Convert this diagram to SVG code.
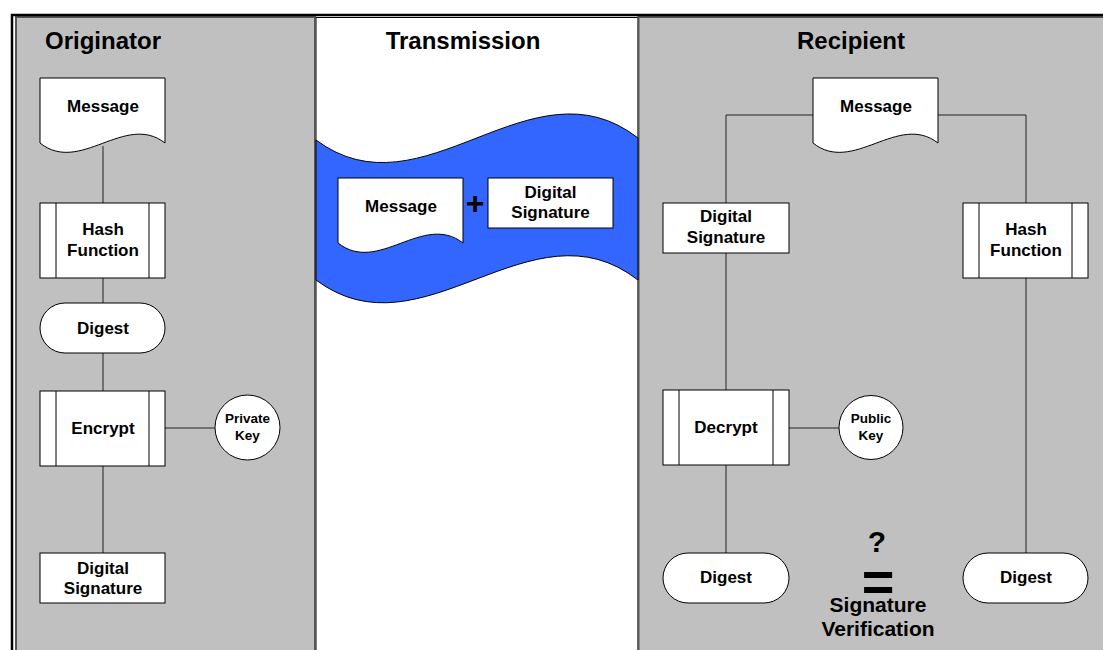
<svg xmlns="http://www.w3.org/2000/svg" width="1103" height="650" viewBox="0 0 1103 650">
<defs>
<style>
text{font-family:"Liberation Sans",Arial,Helvetica,sans-serif;font-weight:bold;fill:#000;text-anchor:middle}
.title{font-size:24px}
.lbl{font-size:17px}
.small{font-size:13.5px}
.node{fill:#fff;stroke:#000;stroke-width:1}
.conn{fill:none;stroke:#222;stroke-width:1}
.lane{fill:#C0C0C0;stroke:#555;stroke-width:2}
</style>
<path id="doc" d="M0,0 H125 V65 C85,34 40,97 0,65 Z"/>
</defs>
<rect x="0" y="0" width="1103" height="650" fill="#fff"/>
<g id="lanes">
<rect x="316" y="17.5" width="322" height="700" fill="#fff" stroke="#000" stroke-width="1"/>
<rect class="lane" x="16" y="17" width="299" height="700"/>
<rect class="lane" x="638.5" y="17" width="500" height="700"/>
<rect x="12" y="15" width="1120" height="700" fill="none" stroke="#000" stroke-width="2.5"/>
</g>
<g id="band">
<path d="M316,140 C423,220 531,55 638,138 V280 C531,197 423,360 316,280 Z" fill="#3366FF" stroke="#000" stroke-width="1"/>
</g>
<g id="titles">
<text class="title" x="103" y="49">Originator</text>
<text class="title" x="463" y="49">Transmission</text>
<text class="title" x="851" y="49">Recipient</text>
</g>
<g id="connectors">
<line class="conn" x1="103" y1="146" x2="103" y2="203"/>
<line class="conn" x1="103" y1="278" x2="103" y2="303"/>
<line class="conn" x1="103" y1="353" x2="103" y2="391"/>
<line class="conn" x1="103" y1="466" x2="103" y2="553"/>
<line class="conn" x1="165" y1="428" x2="215" y2="428"/>
<polyline class="conn" points="813,115 726,115 726,203"/>
<polyline class="conn" points="938,115 1026,115 1026,203"/>
<line class="conn" x1="726" y1="253" x2="726" y2="390"/>
<line class="conn" x1="726" y1="465" x2="726" y2="553"/>
<line class="conn" x1="789" y1="428" x2="839" y2="428"/>
<line class="conn" x1="1026" y1="278" x2="1026" y2="553"/>
</g>
<g id="o-message">
<use href="#doc" x="40" y="78" class="node"/>
<text class="lbl" x="103" y="112">Message</text>
</g>
<g id="o-hash">
<rect class="node" x="40" y="203" width="125" height="75"/>
<line class="node" x1="56" y1="203" x2="56" y2="278"/>
<line class="node" x1="149" y1="203" x2="149" y2="278"/>
<text class="lbl" x="103" y="235">Hash</text>
<text class="lbl" x="103" y="256">Function</text>
</g>
<g id="o-digest">
<rect class="node" x="40" y="303" width="125" height="50" rx="25" ry="25"/>
<text class="lbl" x="103" y="334">Digest</text>
</g>
<g id="o-encrypt">
<rect class="node" x="40" y="391" width="125" height="75"/>
<line class="node" x1="56" y1="391" x2="56" y2="466"/>
<line class="node" x1="149" y1="391" x2="149" y2="466"/>
<text class="lbl" x="103" y="434">Encrypt</text>
</g>
<g id="o-privatekey">
<circle class="node" cx="247.5" cy="427.5" r="32.5"/>
<text class="small" x="247.5" y="423">Private</text>
<text class="small" x="247.5" y="440">Key</text>
</g>
<g id="o-signature">
<rect class="node" x="40" y="553" width="125" height="50"/>
<text class="lbl" x="103" y="574">Digital</text>
<text class="lbl" x="103" y="594">Signature</text>
</g>
<g id="t-message">
<use href="#doc" x="338" y="178" class="node"/>
<text class="lbl" x="401" y="212">Message</text>
</g>
<g id="t-plus">
<text x="475" y="214" style="font-size:32px">+</text>
</g>
<g id="t-signature">
<rect class="node" x="488" y="178" width="125" height="50"/>
<text class="lbl" x="550.5" y="198">Digital</text>
<text class="lbl" x="550.5" y="218">Signature</text>
</g>
<g id="r-message">
<use href="#doc" x="813" y="78" class="node"/>
<text class="lbl" x="876" y="112">Message</text>
</g>
<g id="r-signature">
<rect class="node" x="663" y="203" width="126" height="50"/>
<text class="lbl" x="726" y="222">Digital</text>
<text class="lbl" x="726" y="243">Signature</text>
</g>
<g id="r-hash">
<rect class="node" x="963" y="203" width="125" height="75"/>
<line class="node" x1="979" y1="203" x2="979" y2="278"/>
<line class="node" x1="1072" y1="203" x2="1072" y2="278"/>
<text class="lbl" x="1026" y="235">Hash</text>
<text class="lbl" x="1026" y="256">Function</text>
</g>
<g id="r-decrypt">
<rect class="node" x="663" y="390" width="126" height="75"/>
<line class="node" x1="679" y1="390" x2="679" y2="465"/>
<line class="node" x1="773" y1="390" x2="773" y2="465"/>
<text class="lbl" x="726" y="433">Decrypt</text>
</g>
<g id="r-publickey">
<circle class="node" cx="871" cy="427.5" r="32"/>
<text class="small" x="871" y="423">Public</text>
<text class="small" x="871" y="440">Key</text>
</g>
<g id="r-digest1">
<rect class="node" x="663" y="553" width="126" height="50" rx="25" ry="25"/>
<text class="lbl" x="726" y="583">Digest</text>
</g>
<g id="r-digest2">
<rect class="node" x="963" y="553" width="125" height="50" rx="25" ry="25"/>
<text class="lbl" x="1026" y="583">Digest</text>
</g>
<g id="verification">
<text x="877" y="551.5" style="font-size:30px">?</text>
<text x="878" y="600.5" style="font-size:56px">=</text>
<text x="878" y="612" style="font-size:21px">Signature</text>
<text x="878" y="635.5" style="font-size:21px">Verification</text>
</g>
</svg>
